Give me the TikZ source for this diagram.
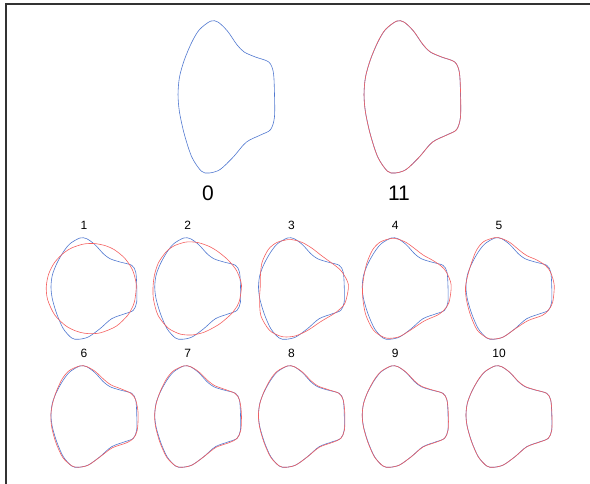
\documentclass[tikz,border=0pt]{standalone}
\usepackage{fontspec}
\setmainfont{Liberation Sans}
\usetikzlibrary{positioning}
\definecolor{origblue}{RGB}{80,120,208}
\definecolor{fitred}{RGB}{244,96,96}
\definecolor{framegray}{gray}{0.2}

\begin{document}
\begin{tikzpicture}[x=1pt, y=-1pt,
  declare function={
    pa(\i)={4.95,22.2,32.2,46.1,62.2,75.2,88.7,98.3,105.35,117.9,129.7,145.9,161.8,177.3,193.1,213.5,232.3,245.5,252.7,263.2,278.6,300.8,321.4,331.5,343.1}[int(\i)];
    pr(\i)={42.86,45.03,44.53,37.48,34.26,36.5,44.31,50.83,52.89,51.26,48.08,45.07,43.89,43.05,42.81,44.74,50.19,53.84,52.69,48.34,40.15,34.57,39.64,44.70,44.64}[int(\i)];
    hwt(\hk,\hl)=max(0,min(1,\hl-\hk+1));
    four(\ang,\lev)=45.08
      +hwt(1,\lev)*(-2.66*cos(\ang)+0.41*sin(\ang))
      +hwt(2,\lev)*(-0.71*cos(2*\ang)+0.22*sin(2*\ang))
      +hwt(3,\lev)*(5.68*cos(3*\ang)-0.65*sin(3*\ang))
      +hwt(4,\lev)*(0.15*cos(4*\ang)-0.11*sin(4*\ang))
      +hwt(5,\lev)*(-2.09*cos(5*\ang)+0.10*sin(5*\ang))
      +hwt(6,\lev)*(-0.21*cos(6*\ang)+0.13*sin(6*\ang));
    fitr(\fj,\fl,\fb)=four(pa(\fj),\fl)+\fb*(pr(\fj)-four(pa(\fj),6));
  },
  outline/.style={line width=0.6pt, line join=round},
  orig/.style={outline, draw=origblue},
  fit/.style={outline, draw=fitred},
  num/.style={font=\fontsize{12}{14}\selectfont, inner sep=0pt},
  bignum/.style={font=\fontsize{21}{25}\selectfont, inner sep=0pt}
]
\useasboundingbox (0,0) rectangle (590,484);
\draw[framegray, line width=2pt] (6,484) -- (6,4) -- (590,4);

% original outline and final fit
\draw[orig, shift={(226.4,97.6)}, xscale=1.125, yscale=1.5]
  plot[smooth cycle, samples at={0,...,24}] ({-pa(\x)}:{pr(\x)});
\draw[orig, shift={(412.4,97.6)}, xscale=1.125, yscale=1.5]
  plot[smooth cycle, samples at={0,...,24}] ({-pa(\x)}:{pr(\x)});
\draw[fit, shift={(412.4,97.6)}, xscale=1.125, yscale=1.5]
  plot[smooth cycle, samples at={0,...,24}] ({-pa(\x)}:{fitr(\x,6,0.96)});
\node[bignum] (n0) at (208,193) {0};
\node[bignum] (n11) at (399,193) {11};

% partial reconstructions
\foreach \p/\lv/\bw in {1/1/0, 2/2.4/0, 3/3/0, 4/4.6/0, 5/5/0, 6/6/0.4, 7/6/0.6, 8/6/0.75, 9/6/0.85, 10/6/0.92} {
  \pgfmathsetmacro\cx{94+103.75*mod(\p-1,5)}
  \pgfmathsetmacro\cy{289+128*int((\p-1)/5)}
  \draw[orig, shift={(\cx,\cy)}]
    plot[smooth cycle, samples at={0,...,24}] ({-pa(\x)}:{pr(\x)});
  \draw[fit, shift={(\cx,\cy)}]
    plot[smooth cycle, samples at={0,...,24}] ({-pa(\x)}:{fitr(\x,\lv,\bw)});
  \node[num] (n\p) at (\cx-10,\cy-64) {\p};
}
\end{tikzpicture}
\end{document}
